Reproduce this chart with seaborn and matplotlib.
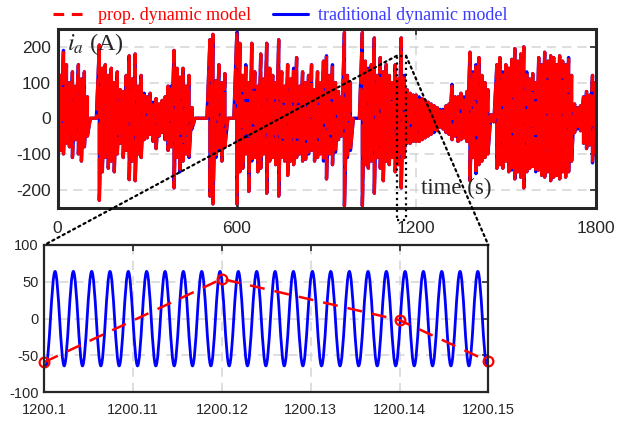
import numpy as np
import pandas as pd
import seaborn as sns
import matplotlib
matplotlib.use('Agg')
import matplotlib.pyplot as plt
from matplotlib.lines import Line2D
from matplotlib.patches import ConnectionPatch, Rectangle, PathPatch
from matplotlib.path import Path

# envelope of the phase current, one pair every 10 s
t_env = list(range(0, 1801, 10))
env_upper = [200, 120, 190, 150, 100, 130, 90, 150, 110, 130,
             60, 0, 0, 0, 205, 140, 150, 120, 140, 100,
             130, 80, 75, 120, 175, 110, 180, 90, 120, 70,
             60, 70, 45, 55, 40, 50, 60, 90, 90, 190,
             140, 115, 140, 90, 120, 30, 0, 0, 0, 0,
             0, 220, 235, 105, 150, 100, 125, 0, 0, 0,
             240, 210, 120, 150, 100, 210, 130, 90, 180, 110,
             210, 140, 120, 100, 220, 130, 90, 150, 110, 140,
             170, 90, 130, 100, 120, 150, 80, 130, 100, 160,
             175, 120, 150, 100, 75, 60, 240, 120, 100, 0,
             0, 0, 240, 160, 140, 150, 225, 120, 170, 130,
             150, 120, 100, 150, 110, 225, 120, 80, 70, 65,
             65, 60, 55, 50, 45, 40, 35, 30, 25, 25,
             35, 40, 95, 60, 60, 70, 60, 75, 185, 130,
             150, 170, 120, 100, 80, 10, 10, 150, 170, 130,
             150, 140, 165, 195, 160, 180, 200, 130, 110, 125,
             100, 170, 150, 185, 160, 175, 170, 150, 175, 160,
             150, 170, 120, 40, 30, 35, 60, 75, 65, 120,
             100]
env_lower = [-195, -90, -100, -70, -80, -110, -60, -100, -120, -80,
             -50, 0, 0, 0, -230, -150, -110, -140, -120, -150,
             -100, -70, -110, -90, -172, -120, -175, -100, -110, -60,
             -55, -45, -65, -85, -50, -40, -60, -90, -80, -195,
             -110, -150, -120, -100, -110, -30, 0, 0, 0, 0,
             0, -218, -240, -110, -90, -120, -80, 0, 0, 0,
             -240, -150, -140, -100, -205, -120, -110, -150, -140, -100,
             -210, -120, -110, -130, -218, -110, -120, -160, -120, -130,
             -110, -100, -120, -115, -100, -90, -120, -110, -100, -120,
             -170, -100, -130, -95, -60, -50, -245, -110, -90, 0,
             0, 0, -245, -130, -140, -120, -210, -110, -140, -175,
             -120, -130, -110, -150, -130, -195, -110, -70, -70, -65,
             -65, -65, -60, -55, -50, -45, -40, -35, -25, -30,
             -40, -45, -60, -50, -65, -60, -55, -65, -175, -110,
             -155, -130, -120, -110, -100, -10, -10, -140, -130, -140,
             -120, -150, -145, -170, -150, -165, -195, -150, -140, -135,
             -150, -145, -160, -165, -150, -175, -165, -160, -170, -150,
             -165, -150, -120, -40, -30, -35, -70, -85, -75, -125,
             -100]

# zoomed window 1200.10 ... 1200.15 s
zoom_red_t = [1200.1, 1200.12, 1200.14, 1200.15]
zoom_red_i = [-59, 54, -2, -58]
# crests and troughs of the traditional model (blue)
zoom_blue_t = [1200.1, 1200.10018, 1200.10121, 1200.10224, 1200.10327, 1200.10430, 1200.10534,
               1200.10637, 1200.10740, 1200.10843, 1200.10946, 1200.11050, 1200.11153,
               1200.11256, 1200.11360, 1200.11463, 1200.11566, 1200.11669, 1200.11773,
               1200.11876, 1200.11979, 1200.12082, 1200.12185, 1200.12288, 1200.12392,
               1200.12495, 1200.12599, 1200.12702, 1200.12805, 1200.12912, 1200.13019,
               1200.13122, 1200.13226, 1200.13330, 1200.13435, 1200.13540, 1200.13646,
               1200.13749, 1200.13852, 1200.13957, 1200.14063, 1200.14166, 1200.14269,
               1200.14372, 1200.14476, 1200.14579, 1200.14682, 1200.14782, 1200.14882,
               1200.14985, 1200.15]
zoom_blue_i = [-63.8] + [-64, 64] * 24 + [-64, -63.8]

assert len(env_upper) == len(t_env) == len(env_lower)

sns.set_style('white')
plt.rcParams['font.family'] = ['Liberation Sans', 'DejaVu Sans']
plt.rcParams['mathtext.fontset'] = 'stix'
plt.rcParams['axes.unicode_minus'] = False

RED = '#ff0000'
BLUE = '#0000ff'
FRAME = '#262626'
serif = ['Liberation Serif', 'DejaVu Serif']

fig = plt.figure(figsize=(6.18, 4.21), dpi=100)
ax1 = fig.add_axes([57.5 / 618, 1 - 207.5 / 421, 538 / 618, 178.5 / 421])
ax2 = fig.add_axes([44.3 / 618, 1 - 392.3 / 421, 444 / 618, 147.3 / 421])

# top panel: each 10 s sample drawn as a stroke between its envelope values
top = pd.DataFrame({'t': np.repeat(t_env, 2),
                    'i': np.column_stack([env_upper, env_lower]).ravel()})
sns.lineplot(data=top, x='t', y='i', ax=ax1, color=BLUE, lw=2.4,
             estimator=None, sort=False, zorder=3)
sns.lineplot(data=top, x='t', y='i', ax=ax1, color=RED, lw=2.3,
             linestyle=(0, (10, 1.2)), estimator=None, sort=False, zorder=4)
ax1.axvline(600, color=FRAME, lw=1.8, zorder=2)

ax1.set_xlim(0, 1800)
ax1.set_ylim(-250, 250)
ax1.set_xticks([0, 600, 1200, 1800])
ax1.set_yticks([-200, -100, 0, 100, 200])
ax1.tick_params(labelsize=12.5, pad=10, axis='x')
ax1.tick_params(labelsize=12.5, pad=5, axis='y')
ax1.text(0.017, 0.99, '$i_a$ (A)', transform=ax1.transAxes, ha='left', va='top',
         fontsize=17.5, family=serif, zorder=6)
ax1.text(0.676, 0.05, 'time (s)', transform=ax1.transAxes, ha='left', va='bottom',
         fontsize=16.5, family=serif, zorder=6)

# bottom panel: blue sinusoid as smooth half waves between crests/troughs
verts = [(zoom_blue_t[0], zoom_blue_i[0]), (zoom_blue_t[1], zoom_blue_i[1])]
codes = [Path.MOVETO, Path.LINETO]
k = 0.363
for j in range(1, len(zoom_blue_t) - 2):
    t0, y0 = zoom_blue_t[j], zoom_blue_i[j]
    t1, y1 = zoom_blue_t[j + 1], zoom_blue_i[j + 1]
    dt = t1 - t0
    verts += [(t0 + k * dt, y0), (t1 - k * dt, y1), (t1, y1)]
    codes += [Path.CURVE4] * 3
verts.append((zoom_blue_t[-1], zoom_blue_i[-1]))
codes.append(Path.LINETO)
ax2.add_patch(PathPatch(Path(verts, codes), fill=False, edgecolor=BLUE, lw=2.0, zorder=3))

low = pd.DataFrame({'t': zoom_red_t, 'i': zoom_red_i})
sns.lineplot(data=low, x='t', y='i', ax=ax2, color=RED, lw=1.8,
             linestyle=(0, (6, 4)), marker='o', markersize=7, markerfacecolor='none',
             markeredgecolor=RED, markeredgewidth=1.6, estimator=None, sort=False,
             zorder=4, clip_on=False)

ax2.set_xlim(1200.1, 1200.15)
ax2.set_ylim(-100, 100)
ax2.set_xticks([1200.1, 1200.11, 1200.12, 1200.13, 1200.14, 1200.15])
ax2.set_xticklabels(['1200.1', '1200.11', '1200.12', '1200.13', '1200.14', '1200.15'])
ax2.set_yticks([-100, -50, 0, 50, 100])
ax2.tick_params(labelsize=10.5, pad=8, axis='x')
ax2.tick_params(labelsize=10.5, pad=4, axis='y')

for ax, lw in ((ax1, 2.2), (ax2, 1.6)):
    ax.set_xlabel('')
    ax.set_ylabel('')
    ax.grid(True, color='#d4d4d4', linestyle=(0, (6, 4)), lw=1.1)
    ax.set_axisbelow(True)
    ax.tick_params(direction='in', top=True, right=True, length=4, width=1.2,
                   colors=FRAME, labelcolor=FRAME)
    for s in ax.spines.values():
        s.set_color(FRAME)
        s.set_linewidth(lw)
        s.set_zorder(7)

# zoom marker on the top panel and the connecting dotted lines
ax1.add_patch(Rectangle((1135, -286), 31, 461, fill=False, ls=':', lw=1.6,
                        edgecolor='black', clip_on=False, zorder=8))
for xa, xb in ((1135, 1200.1), (1166, 1200.15)):
    con = ConnectionPatch(xyA=(xa, 175), coordsA=ax1.transData,
                          xyB=(xb, 100), coordsB=ax2.transData,
                          ls=':', lw=1.6, color='black', zorder=8)
    fig.add_artist(con)

handles = [Line2D([], [], color=RED, lw=2.2, ls=(0, (3.5, 2.5))),
           Line2D([], [], color=BLUE, lw=2.2)]
fig.legend(handles, ['prop. dynamic model', 'traditional dynamic model'],
           loc='center', bbox_to_anchor=(0.454, 0.962), ncol=2, frameon=False,
           prop={'family': serif, 'size': 13}, labelcolor=[RED, '#3b3bff'],
           handlelength=1.9, handletextpad=0.6, columnspacing=1.2)

fig.savefig('out.png', dpi=100)
